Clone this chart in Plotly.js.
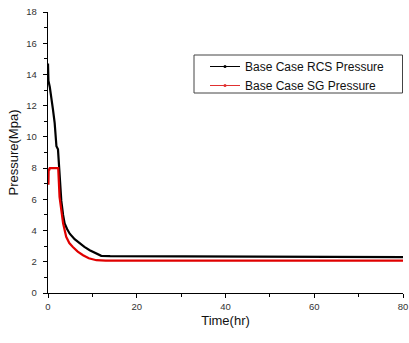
<!DOCTYPE html>
<html><head><meta charset="utf-8">
<script src="https://cdn.plot.ly/plotly-3.0.1.min.js"></script>
<style>html,body{margin:0;padding:0;background:#fff}#c{width:409px;height:343px}</style>
</head><body><div id="c"></div>
<script>
const rcsTime = [0, 0.1, 0.4, 0.75, 1.1, 1.5, 1.9, 2.25, 2.6, 3.0, 3.4, 3.75, 4.3, 4.9, 6.0, 7.1, 8.2, 9.4, 10.7, 12, 14, 20, 30, 40, 50, 60, 70, 80];
const rcsPressure = [14.7, 13.6, 13.2, 12.6, 11.8, 10.9, 9.4, 9.2, 7.7, 5.9, 5.0, 4.46, 4.1, 3.8, 3.45, 3.18, 2.95, 2.74, 2.55, 2.38, 2.36, 2.35, 2.34, 2.33, 2.32, 2.31, 2.3, 2.3];
const sgTime = [0, 0.1, 0.15, 0.3, 0.4, 1.0, 2.3, 2.6, 3.0, 3.4, 4.1, 4.8, 5.6, 6.7, 7.9, 9.2, 10.9, 13, 20, 30, 40, 50, 60, 70, 80];
const sgPressure = [7.0, 7.0, 7.9, 7.9, 8.0, 8.0, 8.0, 6.16, 5.1, 4.46, 3.6, 3.2, 2.95, 2.65, 2.42, 2.22, 2.1, 2.07, 2.07, 2.07, 2.07, 2.07, 2.07, 2.07, 2.07];
const seriesNames = ["Base Case RCS Pressure", "Base Case SG Pressure"];
const xTitle = "Time(hr)";
const yTitle = "Pressure(Mpa)";

const font = "Liberation Sans, Arial, sans-serif";
const traces = [
  {x: rcsTime, y: rcsPressure, mode: 'lines', line: {color: '#000000', width: 2.2}, showlegend: false, hoverinfo: 'skip'},
  {x: sgTime, y: sgPressure, mode: 'lines', line: {color: '#e00000', width: 2.2}, showlegend: false, hoverinfo: 'skip'},
  {x: [null], y: [null], mode: 'lines+markers', name: seriesNames[0], line: {color: '#000000', width: 1}, marker: {color: '#000000', size: 3}},
  {x: [null], y: [null], mode: 'lines+markers', name: seriesNames[1], line: {color: '#e03030', width: 1}, marker: {color: '#e03030', size: 3}}
];
const axisCommon = {
  showgrid: false, zeroline: false, showline: true, linecolor: '#000', linewidth: 1.2,
  ticks: 'outside', ticklen: 4, tickwidth: 1, tickcolor: '#000',
  tickfont: {family: font, size: 9.5, color: '#333'}, mirror: false
};
const W = 409, H = 343, M = {l: 48, r: 6, t: 12, b: 50};
const pw = W - M.l - M.r, ph = H - M.t - M.b;
const px2x = p => (p - M.l) / pw;
const px2y = p => (H - M.b - p) / ph;
const layout = {
  width: W, height: H,
  margin: M,
  paper_bgcolor: '#fff', plot_bgcolor: '#fff',
  xaxis: Object.assign({}, axisCommon, {
    range: [0, 80], dtick: 20, tick0: 0,
    minor: {dtick: 10, ticks: 'outside', ticklen: 3, tickcolor: '#000'},
    title: {text: xTitle, font: {family: font, size: 13, color: '#111'}, standoff: 5}
  }),
  yaxis: Object.assign({}, axisCommon, {
    range: [0, 18], dtick: 2, tick0: 0, ticklabelstandoff: 4,
    minor: {dtick: 1, ticks: 'outside', ticklen: 3, tickcolor: '#000'},
    title: {text: yTitle, font: {family: font, size: 13, color: '#111'}, standoff: 4}
  }),
  legend: {
    bgcolor: 'rgba(0,0,0,0)', borderwidth: 0,
    font: {family: font, size: 12, color: '#111'},
    tracegroupgap: 0, itemwidth: 30,
    x: px2x(205), y: px2y(52), xanchor: 'left', yanchor: 'top'
  },
  shapes: [{
    type: 'rect', xref: 'paper', yref: 'paper', layer: 'below',
    x0: px2x(194), x1: px2x(402.5), y0: px2y(93), y1: px2y(55),
    line: {color: '#444', width: 1}, fillcolor: '#fff'
  }],
  showlegend: true
};
Plotly.newPlot('c', traces, layout, {staticPlot: true});
</script></body></html>
